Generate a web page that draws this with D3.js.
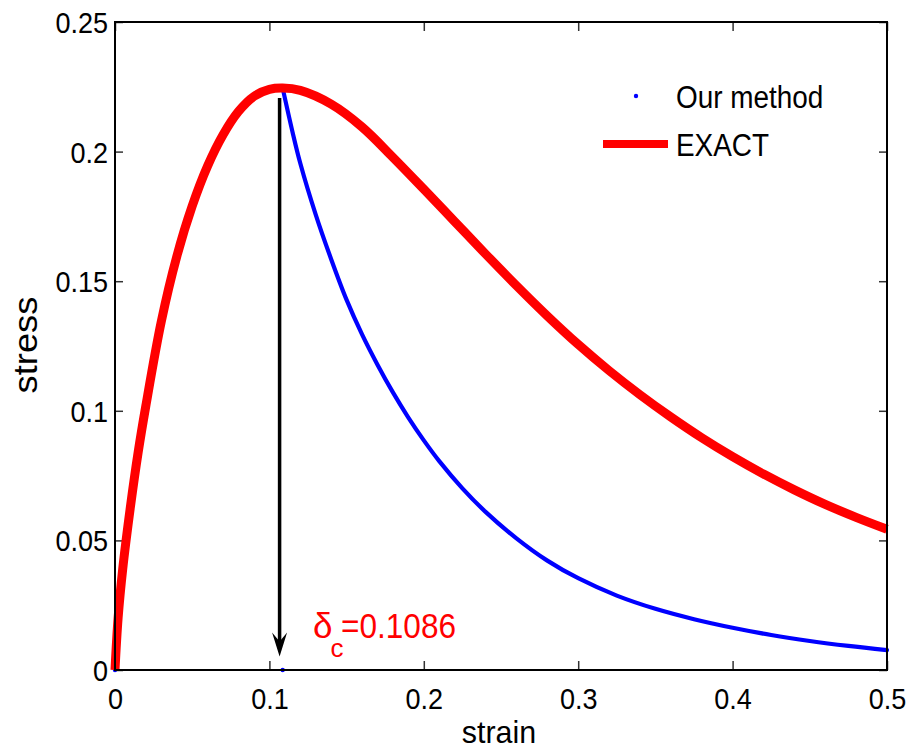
<!DOCTYPE html>
<html>
<head>
<meta charset="utf-8">
<script src="https://cdn.jsdelivr.net/npm/d3@7"></script>
<style>
  body { margin: 0; background: #fff; }
  text { font-family: "Liberation Sans", Arial, Helvetica, sans-serif; }
</style>
</head>
<body>
<svg id="chart" width="909" height="749"></svg>
<script>
// exact cohesive law (red)
const strainExact = [0, 0.002, 0.005, 0.01, 0.015, 0.02, 0.03, 0.04, 0.05, 0.06, 0.07, 0.08, 0.09, 0.1, 0.1086,
  0.12, 0.14, 0.16, 0.18, 0.2, 0.22, 0.24, 0.26, 0.28, 0.3, 0.32, 0.34, 0.36, 0.38, 0.4, 0.42, 0.44, 0.46, 0.48, 0.5];
const stressExact = [0, 0.02, 0.039, 0.063, 0.084, 0.102, 0.1345, 0.1595, 0.179, 0.1945, 0.2065, 0.2155, 0.2213, 0.224, 0.2245,
  0.2236, 0.2183, 0.2095, 0.1978, 0.1855, 0.173, 0.1605, 0.1483, 0.1366, 0.1256, 0.1155, 0.1062, 0.0976, 0.0896, 0.0823, 0.0756, 0.0695, 0.0639, 0.0589, 0.0543];

// our method (blue dots): same as exact up to the peak, then softens faster
const strainOursRise = [0, 0.002, 0.005, 0.01, 0.015, 0.02, 0.03, 0.04, 0.05, 0.06, 0.07, 0.08, 0.09, 0.1, 0.1086];
const stressOursRise = [0, 0.02, 0.039, 0.063, 0.084, 0.102, 0.1345, 0.1595, 0.179, 0.1945, 0.2065, 0.2155, 0.2213, 0.224, 0.2245];
const strainOursSoft = [0.1086, 0.115, 0.12, 0.13, 0.14, 0.15, 0.16, 0.17, 0.18, 0.19, 0.2, 0.21, 0.225, 0.24, 0.26, 0.28, 0.3,
  0.325, 0.35, 0.375, 0.4, 0.425, 0.45, 0.475, 0.5];
const stressOursSoft = [0.2245, 0.2075, 0.1955, 0.1757, 0.1585, 0.1428, 0.1295, 0.1178, 0.1071, 0.0974, 0.0886, 0.0806, 0.0701, 0.061,
  0.0508, 0.0422, 0.0354, 0.0287, 0.0236, 0.0196, 0.0163, 0.0135, 0.0112, 0.0093, 0.0077];
const strainOursExtra = [0, 0.1086];
const stressOursExtra = [0, 0];

const xTicks = [0, 0.1, 0.2, 0.3, 0.4, 0.5];
const xTickLabels = ["0", "0.1", "0.2", "0.3", "0.4", "0.5"];
const yTicks = [0, 0.05, 0.1, 0.15, 0.2, 0.25];
const yTickLabels = ["0", "0.05", "0.1", "0.15", "0.2", "0.25"];

const deltaC = 0.1086;
const legendLabels = ["Our method", "EXACT"];

const margin = { top: 22, right: 22, bottom: 79, left: 115 };
const width = 909, height = 749;
const innerW = width - margin.left - margin.right;
const innerH = height - margin.top - margin.bottom;

const svg = d3.select("#chart");
svg.append("rect").attr("width", width).attr("height", height).attr("fill", "#fff");

const xScale = d3.scaleLinear().domain([0, 0.5]).range([margin.left, margin.left + innerW]);
const yScale = d3.scaleLinear().domain([0, 0.25]).range([margin.top + innerH, margin.top]);

// squeeze text a bit, matlab fonts are narrower
const squeeze = (sel, k) => sel.each(function () {
  const w = this.getComputedTextLength();
  d3.select(this).attr("textLength", w * k).attr("lengthAdjust", "spacingAndGlyphs");
});

// Add axes (ticks point inward, box on)
const xAxis = d3.axisBottom(xScale).tickValues(xTicks).tickFormat((d, i) => xTickLabels[i])
  .tickSizeInner(-9).tickSizeOuter(0).tickPadding(18);
const yAxis = d3.axisLeft(yScale).tickValues(yTicks).tickFormat((d, i) => yTickLabels[i])
  .tickSizeInner(-8).tickSizeOuter(0).tickPadding(7);

const gx = svg.append("g").attr("transform", `translate(0, ${margin.top + innerH})`).call(xAxis);
const gy = svg.append("g").attr("transform", `translate(${margin.left}, 0)`).call(yAxis);
svg.append("g").attr("transform", `translate(0, ${margin.top})`)
  .call(d3.axisTop(xScale).tickValues(xTicks).tickFormat("").tickSizeInner(-9).tickSizeOuter(0));
svg.append("g").attr("transform", `translate(${margin.left + innerW}, 0)`)
  .call(d3.axisRight(yScale).tickValues(yTicks).tickFormat("").tickSizeInner(-8).tickSizeOuter(0));

svg.selectAll(".domain").remove();
svg.selectAll(".tick line").attr("stroke", "#333").attr("stroke-width", 1.5);
svg.selectAll(".tick text").attr("font-size", 30).attr("fill", "#000")
  .attr("font-family", "'Liberation Sans', Arial, sans-serif");
gx.selectAll(".tick text").attr("dy", "0.71em");
gy.selectAll(".tick text").attr("dy", "0.35em");
squeeze(svg.selectAll(".tick text"), 0.9);

// Add curves
const line = d3.line().x(d => xScale(d[0])).y(d => yScale(d[1])).curve(d3.curveCatmullRom.alpha(0.5));
const zip = (xs, ys) => xs.map((s, i) => [s, ys[i]]);

svg.append("path").datum(zip(strainOursRise, stressOursRise)).attr("d", line)
  .attr("fill", "none").attr("stroke", "#0000ff").attr("stroke-width", 4.2);
svg.append("path").datum(zip(strainOursSoft, stressOursSoft)).attr("d", line)
  .attr("fill", "none").attr("stroke", "#0000ff").attr("stroke-width", 4.2).attr("stroke-linecap", "round");
svg.selectAll("circle.extra").data(strainOursExtra).enter().append("circle").attr("class", "extra")
  .attr("cx", d => xScale(d)).attr("cy", (d, i) => yScale(stressOursExtra[i])).attr("r", 2.2).attr("fill", "#0000ff");
svg.append("path").datum(zip(strainExact, stressExact)).attr("d", line)
  .attr("fill", "none").attr("stroke", "#ff0000").attr("stroke-width", 9);

// box
svg.append("rect").attr("x", margin.left).attr("y", margin.top).attr("width", innerW).attr("height", innerH)
  .attr("fill", "none").attr("stroke", "#000").attr("stroke-width", 2);

// Add arrow to delta_c
const arrowX = xScale(0.1066);
const tipY = yScale(0.0052);
svg.append("line").attr("x1", arrowX).attr("x2", arrowX).attr("y1", yScale(0.2207)).attr("y2", tipY - 12)
  .attr("stroke", "#000").attr("stroke-width", 3.5);
svg.append("path")
  .attr("d", `M${arrowX},${tipY} L${arrowX - 7.5},${tipY - 24} L${arrowX},${tipY - 15} L${arrowX + 7.5},${tipY - 24} Z`)
  .attr("fill", "#000");

const lbl = svg.append("text").attr("x", 313).attr("y", 638).attr("fill", "#ff0000").attr("font-size", 35);
lbl.append("tspan").text("δ");
lbl.append("tspan").attr("font-size", 26).attr("dy", 19).attr("dx", -2).text("c");
const eq = svg.append("text").attr("x", 341).attr("y", 638).attr("fill", "#ff0000").attr("font-size", 35)
  .attr("textLength", 115).attr("lengthAdjust", "spacingAndGlyphs").text("=" + deltaC);

// Add legend
svg.append("circle").attr("cx", 636).attr("cy", 96).attr("r", 2.2).attr("fill", "#0000ff");
svg.append("line").attr("x1", 603).attr("x2", 668).attr("y1", 144).attr("y2", 144)
  .attr("stroke", "#ff0000").attr("stroke-width", 8);
const leg1 = svg.append("text").attr("x", 676).attr("y", 108).attr("font-size", 31).text(legendLabels[0]);
const leg2 = svg.append("text").attr("x", 676).attr("y", 156).attr("font-size", 31).text(legendLabels[1]);
squeeze(leg1, 0.9);
squeeze(leg2, 0.9);

// Add axis labels
const xl = svg.append("text").attr("x", 499).attr("y", 743).attr("text-anchor", "middle")
  .attr("font-size", 32).text("strain");
squeeze(xl, 0.95);
svg.append("text").attr("transform", "translate(37, 345) rotate(-90)").attr("text-anchor", "middle")
  .attr("font-size", 34).attr("textLength", 97).attr("lengthAdjust", "spacingAndGlyphs").text("stress");
</script>
</body>
</html>
